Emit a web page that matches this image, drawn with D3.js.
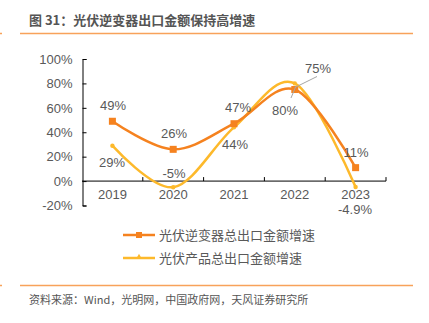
<!DOCTYPE html>
<html><head><meta charset="utf-8">
<script src="https://cdn.jsdelivr.net/npm/d3@7"></script>
<style>
body{margin:0;background:#fff;}
svg text{font-family:"Liberation Sans","Noto Sans CJK SC",sans-serif;}
</style></head>
<body><svg id="c" width="429" height="323"></svg>
<script>
const years = ["2019","2020","2021","2022","2023"];
const inverter = [49,26,47,75,11];
const product = [29,-5,44,80,-4.9];
const inverterLabels = ["49%","26%","47%","75%","11%"];
const productLabels = ["29%","-5%","44%","80%","-4.9%"];
const yTicks = [-20,0,20,40,60,80,100];
const seriesNames = ["光伏逆变器总出口金额增速","光伏产品总出口金额增速"];
const title = "图 31：光伏逆变器出口金额保持高增速";
const source = "资料来源：Wind，光明网，中国政府网，天风证券研究所";

const cOrange = "#F5821F", cYellow = "#FDB92B", cText = "#595959";
const svg = d3.select("#c");
const cjk = '"Noto Sans CJK SC","Liberation Sans",sans-serif';

// header
svg.append("text").attr("x",29).attr("y",20).attr("dy","0.35em")
  .style("font-family",cjk).style("font-size","13px").style("font-weight","bold")
  .attr("fill","#555").text(title);
svg.append("line").attr("x1",20).attr("x2",413).attr("y1",33.5).attr("y2",33.5)
  .attr("stroke","#F8A25A").attr("stroke-width",1.3);
svg.append("line").attr("x1",0).attr("x2",2).attr("y1",33.5).attr("y2",33.5)
  .attr("stroke","#F8A25A").attr("stroke-width",1.3);
svg.append("line").attr("x1",20).attr("x2",413).attr("y1",285.5).attr("y2",285.5)
  .attr("stroke","#F8A25A").attr("stroke-width",1.3);
svg.append("line").attr("x1",0).attr("x2",2).attr("y1",285.5).attr("y2",285.5)
  .attr("stroke","#F8A25A").attr("stroke-width",1.3);
svg.append("text").attr("x",29).attr("y",300).attr("dy","0.35em")
  .style("font-family",cjk).style("font-size","11px")
  .attr("fill","#555").text(source);

const x = d3.scaleBand().domain(years).range([82,386]).padding(0);
const y = d3.scaleLinear().domain([-20,100]).range([205.5,59]);
const cx = d => x(d)+x.bandwidth()/2;

// y axis
const ya = svg.append("g").attr("transform","translate(82.5,0)")
  .call(d3.axisLeft(y).tickValues(yTicks).tickFormat(d=>d+"%")
    .tickSizeInner(-4).tickSizeOuter(-4).tickPadding(10));
ya.select(".domain").attr("stroke","#000");
ya.selectAll(".tick line").attr("stroke","#000");
ya.selectAll("text").style("font-size","13px").attr("fill",cText);

// x axis
const xa = svg.append("g").attr("transform",`translate(0,${y(0)})`)
  .call(d3.axisBottom(x).tickSize(0).tickPadding(9));
xa.select(".domain").remove();
xa.selectAll("text").style("font-size","13px").attr("fill",cText);
svg.append("line").attr("x1",82).attr("x2",386).attr("y1",y(0)).attr("y2",y(0)).attr("stroke","#000");
const bounds = years.map(d=>x(d)+x.bandwidth()).filter((d,i)=>true);
svg.selectAll(".xt").data(bounds).join("line")
  .attr("x1",d=>d).attr("x2",d=>d).attr("y1",y(0)).attr("y2",y(0)-4).attr("stroke","#000");

const line = d3.line().x((d,i)=>cx(years[i])).y(d=>y(d)).curve(d3.curveCardinal.tension(0));

// product (yellow)
svg.append("path").datum(product).attr("d",line).attr("fill","none")
  .attr("stroke",cYellow).attr("stroke-width",2.5);
svg.selectAll(".pm").data(product).join("circle")
  .attr("cx",(d,i)=>cx(years[i])).attr("cy",d=>y(d)).attr("r",2.2).attr("fill",cYellow);

// inverter (orange)
svg.append("path").datum(inverter).attr("d",line).attr("fill","none")
  .attr("stroke",cOrange).attr("stroke-width",2.5);
svg.selectAll(".im").data(inverter).join("rect")
  .attr("x",(d,i)=>cx(years[i])-3.5).attr("y",d=>y(d)-3.5).attr("width",7).attr("height",7).attr("fill",cOrange);

// labels
const invPos = [[113,105],[174,133],[238,107],[318,68],[356,152]];
const prodPos = [[112,162],[174,173.5],[235,144],[285,110],[355,209]];
svg.selectAll(".il").data(inverterLabels).join("text")
  .attr("x",(d,i)=>invPos[i][0]).attr("y",(d,i)=>invPos[i][1]).attr("dy","0.35em")
  .attr("text-anchor","middle").style("font-size","13px").attr("fill",cText).text(d=>d);
svg.selectAll(".pl").data(productLabels).join("text")
  .attr("x",(d,i)=>prodPos[i][0]).attr("y",(d,i)=>prodPos[i][1]).attr("dy","0.35em")
  .attr("text-anchor","middle").style("font-size","13px").attr("fill",cText).text(d=>d);
// leader lines
svg.append("line").attr("x1",317).attr("y1",76.5).attr("x2",cx("2022")).attr("y2",y(75)-2)
  .attr("stroke","#A6A6A6").attr("stroke-width",1);
svg.append("line").attr("x1",291).attr("y1",98).attr("x2",cx("2022")+1).attr("y2",y(80)+3)
  .attr("stroke","#A6A6A6").attr("stroke-width",1);

// legend
const lg = svg.append("g");
[[cOrange,235,"rect"],[cYellow,258,"tri"]].forEach((s,i)=>{
  lg.append("line").attr("x1",123).attr("x2",155).attr("y1",s[1]).attr("y2",s[1])
    .attr("stroke",s[0]).attr("stroke-width",2.5);
  if(s[2]==="rect") lg.append("rect").attr("x",136).attr("y",s[1]-3).attr("width",6).attr("height",6).attr("fill",s[0]);
  else lg.append("path").attr("d",d3.symbol(d3.symbolTriangle,14)()).attr("transform",`translate(139,${s[1]-1})`).attr("fill",s[0]);
  lg.append("text").attr("x",159).attr("y",s[1]).attr("dy","0.35em")
    .style("font-family",cjk).style("font-size","13px").attr("fill",cText).text(seriesNames[i]);
});
</script></body></html>
